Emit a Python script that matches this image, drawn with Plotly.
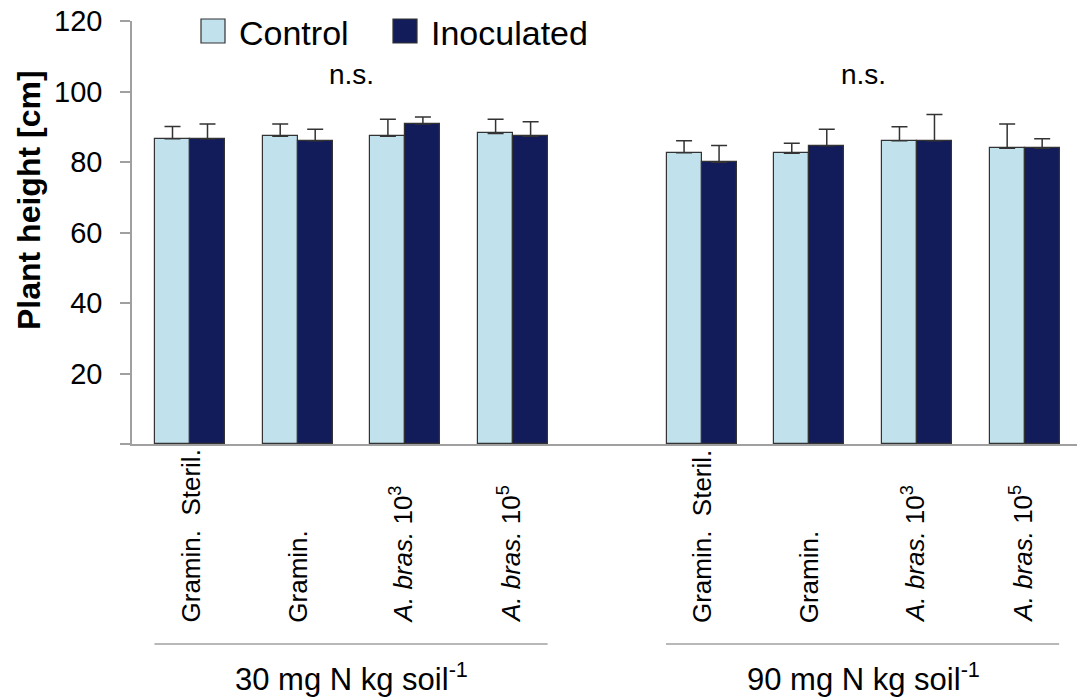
import plotly.graph_objects as go

# Plant height (cm), mean and upper SD, per treatment, for two N levels
nitrogen_levels = ["30 mg N kg soil<sup>-1</sup>", "90 mg N kg soil<sup>-1</sup>"]
treatments = [
    "Gramin.  Steril.",
    "Gramin.",
    "<i>A. bras.</i> 10<sup>3</sup>",
    "<i>A. bras.</i> 10<sup>5</sup>",
]
control_mean = [86.6, 87.3, 87.3, 88.1, 82.6, 82.5, 86.0, 83.9]
control_sd = [3.5, 3.5, 4.8, 4.0, 3.4, 2.8, 4.0, 6.9]
inoculated_mean = [86.6, 86.0, 90.8, 87.3, 79.9, 84.6, 86.0, 83.9]
inoculated_sd = [4.2, 3.3, 2.0, 4.1, 4.8, 4.7, 7.5, 2.7]
significance = ["n.s.", "n.s."]
y_ticks = [0, 20, 40, 60, 80, 100, 120]

# layout geometry
W, H = 1077, 700
ML, MR, MT, MB = 132, 0, 21, 256
PW, PH = W - ML - MR, H - MT - MB
GROUP_STEP = len(treatments) + 0.75
BAR_W = 0.325

positions = [g * GROUP_STEP + i for g in range(len(nitrogen_levels)) for i in range(len(treatments))]
x_lo, x_hi = -0.5385, -0.5385 + PW / 107.7

LIGHT = "#c1e1ec"
NAVY = "#131c5b"
EDGE = "#333333"
AXIS = "#a0a0a0"
FONT = "Liberation Sans, Arial, sans-serif"


def px_x(p):
    return (p - ML) / PW


def px_y(p):
    return (H - MB - p) / PH


fig = go.Figure()
for name, mean, sd, colour, off in [
    ("Control", control_mean, control_sd, LIGHT, -BAR_W),
    ("Inoculated", inoculated_mean, inoculated_sd, NAVY, 0.0),
]:
    fig.add_trace(go.Bar(
        name=name, x=positions, y=mean, width=BAR_W, offset=off,
        marker=dict(color=colour, line=dict(color=EDGE, width=1.2)),
        error_y=dict(type="data", array=sd, arrayminus=[0] * len(sd), symmetric=False,
                     color=EDGE, thickness=1.5, width=8),
        showlegend=False,
    ))

annotations = []
shapes = []

# category labels, rotated, aligned at their start
for k, pos in enumerate(positions):
    label = treatments[k % len(treatments)]
    annotations.append(dict(
        x=pos, xref="x", y=px_y(625), yref="paper", text=label, textangle=-90,
        xanchor="center", yanchor="bottom", showarrow=False,
        xshift=-4 if "<sup>" in label else 0,
        font=dict(family=FONT, size=26, color="black"),
    ))

# group labels, underline and significance marks
for g, level in enumerate(nitrogen_levels):
    start = g * GROUP_STEP
    centre = start + (len(treatments) - 1) / 2
    shapes.append(dict(type="line", xref="x", yref="paper",
                       x0=start - 0.33, x1=start + 3.32, y0=px_y(644), y1=px_y(644),
                       line=dict(color=AXIS, width=1.5)))
    annotations.append(dict(
        x=centre, xref="x", y=px_y(677), yref="paper", text=level,
        xanchor="center", yanchor="middle", showarrow=False,
        font=dict(family=FONT, size=31, color="black"),
    ))
    annotations.append(dict(
        x=centre, xref="x", y=px_y(75), yref="paper", text=significance[g],
        xanchor="center", yanchor="middle", showarrow=False,
        font=dict(family=FONT, size=28, color="black"),
    ))

# y-axis title
annotations.append(dict(
    x=px_x(29), xref="paper", y=px_y(200), yref="paper",
    text="<b>Plant height [cm]</b>", textangle=-90,
    xanchor="center", yanchor="middle", showarrow=False,
    font=dict(family=FONT, size=32, color="black"),
))

# legend
for name, colour, x0 in [("Control", LIGHT, 201), ("Inoculated", NAVY, 393)]:
    shapes.append(dict(type="rect", xref="paper", yref="paper",
                       x0=px_x(x0), x1=px_x(x0 + 24), y0=px_y(43), y1=px_y(19),
                       fillcolor=colour, line=dict(color=EDGE, width=1.2)))
    annotations.append(dict(
        x=px_x(x0 + 36), xref="paper", y=px_y(33), yref="paper", text=name,
        xanchor="left", yanchor="middle", showarrow=False,
        font=dict(family=FONT, size=34, color="black"),
    ))

fig.update_layout(
    width=W, height=H,
    margin=dict(l=ML, r=MR, t=MT, b=MB),
    plot_bgcolor="white", paper_bgcolor="white",
    bargap=0, barmode="overlay",
    annotations=annotations, shapes=shapes,
    xaxis=dict(range=[x_lo, x_hi], showticklabels=False, ticks="", showgrid=False,
               zeroline=False, showline=True, linecolor=AXIS, linewidth=1.5),
    yaxis=dict(range=[0, 120], tickvals=y_ticks,
               ticktext=["" if v == 0 else str(v) for v in y_ticks],
               ticks="outside", ticklen=10, tickcolor=AXIS, tickwidth=1.5,
               showline=True, linecolor=AXIS, linewidth=1.5,
               showgrid=False, zeroline=False, ticklabelstandoff=12,
               tickfont=dict(family=FONT, size=29, color="black")),
)

fig.write_html("out.html")
